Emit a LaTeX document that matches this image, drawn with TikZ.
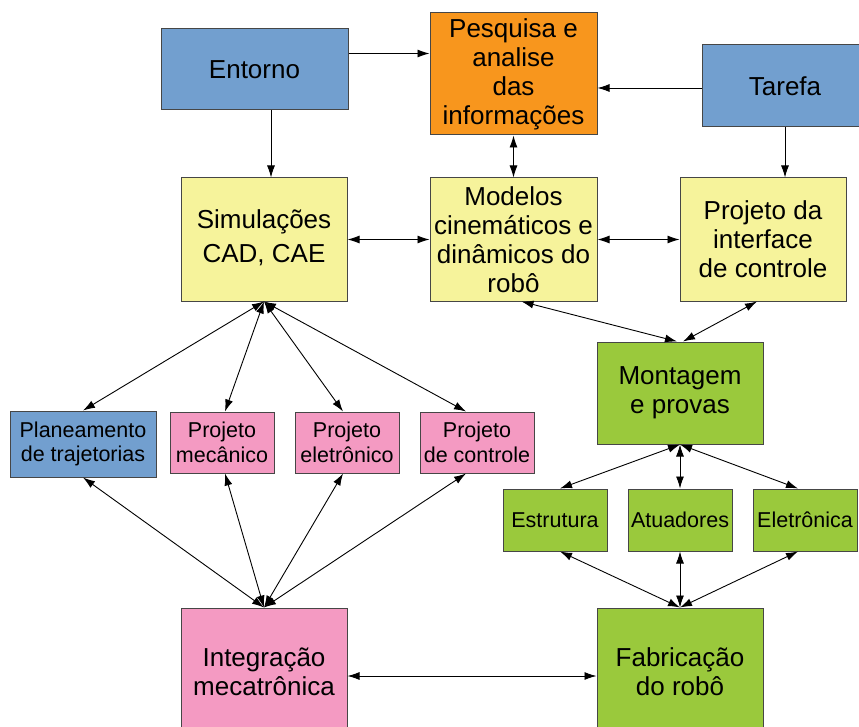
\documentclass[tikz,border=0pt]{standalone}
\usepackage{fontspec}
\setmainfont{Liberation Sans}
\usetikzlibrary{arrows.meta}
\definecolor{cblue}{RGB}{114,159,207}
\definecolor{corange}{RGB}{248,150,29}
\definecolor{cyellow}{RGB}{246,243,155}
\definecolor{cpink}{RGB}{244,154,194}
\definecolor{cgreen}{RGB}{154,201,60}
\definecolor{cborder}{RGB}{70,70,70}
\tikzset{
  box/.style={draw=cborder, line width=1pt, inner sep=0pt, align=center,
    font=\fontsize{26}{29}\selectfont},
  sbox/.style={draw=cborder, line width=1pt, inner sep=0pt, align=center,
    font=\fontsize{21.5}{24.5}\selectfont},
  arr/.style={line width=0.9pt, -{Latex[length=12pt,width=8pt]}},
  darr/.style={line width=0.9pt, {Latex[length=12pt,width=8pt]}-{Latex[length=12pt,width=8pt]}},
}
\begin{document}
\begin{tikzpicture}[x=1pt,y=-1pt]
\useasboundingbox (0,0) rectangle (859,727);
% top row
\node[box, fill=cblue, minimum width=187pt, minimum height=81pt] (entorno) at (254.5,69.5) {Entorno};
\node[box, fill=corange, minimum width=167pt, minimum height=122pt] (pesquisa) at (513.5,74) {Pesquisa e\\analise\\das\\informações};
\node[box, fill=cblue, minimum width=166pt, minimum height=82pt] (tarefa) at (785,86) {Tarefa};
% second row
\node[box, fill=cyellow, minimum width=166pt, minimum height=123pt] (sim) at (264,239.5) {\raisebox{8pt}{\begin{tabular}{@{}c@{}}Simulações\\[5pt]CAD, CAE\end{tabular}}};
\node[box, fill=cyellow, minimum width=167pt, minimum height=123pt] (modelos) at (513.5,239.5) {Modelos\\cinemáticos e\\dinâmicos do\\robô};
\node[box, fill=cyellow, minimum width=166pt, minimum height=123pt] (interface) at (763,239.5) {Projeto da\\interface\\de controle};
% montagem
\node[box, fill=cgreen, minimum width=166pt, minimum height=102pt] (montagem) at (680,393) {Montagem\\e provas};
% small row left
\node[sbox, fill=cblue, minimum width=146pt, minimum height=66pt] (plan) at (83,444) {Planeamento\\de trajetorias};
\node[sbox, fill=cpink, minimum width=104pt, minimum height=61pt] (mec) at (222,442.5) {Projeto\\mecânico};
\node[sbox, fill=cpink, minimum width=104pt, minimum height=61pt] (ele) at (347,442.5) {Projeto\\eletrônico};
\node[sbox, fill=cpink, minimum width=114pt, minimum height=61pt] (ctrl) at (477,442.5) {Projeto\\de controle};
% small row right
\node[sbox, fill=cgreen, minimum width=104pt, minimum height=62pt] (estr) at (555,520) {Estrutura};
\node[sbox, fill=cgreen, minimum width=104pt, minimum height=62pt] (atua) at (680,520) {Atuadores};
\node[sbox, fill=cgreen, minimum width=104pt, minimum height=62pt] (eletr) at (805,520) {Eletrônica};
% bottom row
\node[box, fill=cpink, minimum width=166pt, minimum height=128pt] (integ) at (264,672) {Integração\\mecatrônica};
\node[box, fill=cgreen, minimum width=166pt, minimum height=128pt] (fabr) at (680,672) {Fabricação\\do robô};
% connectors top
\draw[arr] ([yshift=16pt]entorno.east) -- ([yshift=16pt]entorno.east -| pesquisa.west);
\draw[arr] ([xshift=16.5pt]entorno.south) -- ([xshift=16.5pt]entorno.south |- sim.north);
\draw[arr] (tarefa.west |- pesquisa.east) ++(0,14) coordinate (tw) -- (tw -| pesquisa.east);
\draw[arr] (tarefa.south) -- (tarefa.south |- interface.north);
\draw[darr] (pesquisa.south) -- (modelos.north);
\draw[darr] (sim.east) -- (modelos.west);
\draw[darr] (modelos.east) -- (interface.west);
% from simulacoes
\draw[darr] (sim.south) -- (plan.north);
\draw[darr] (sim.south) -- ([xshift=3pt]mec.north);
\draw[darr] (sim.south) -- ([xshift=-4pt]ele.north);
\draw[darr] (sim.south) -- ([xshift=-11pt]ctrl.north);
% to integracao
\draw[darr] (plan.south) -- (integ.north);
\draw[darr] ([xshift=3pt]mec.south) -- (integ.north);
\draw[darr] ([xshift=-4pt]ele.south) -- (integ.north);
\draw[darr] ([xshift=-11pt]ctrl.south) -- (integ.north);
% montagem
\draw[darr] ([xshift=8pt]modelos.south) -- ([xshift=-3pt]montagem.north);
\draw[darr] ([xshift=-6pt]interface.south) -- ([xshift=3pt]montagem.north);
\draw[darr] (montagem.south) -- ([xshift=5pt]estr.north);
\draw[darr] (montagem.south) -- (atua.north);
\draw[darr] (montagem.south) -- ([xshift=-7pt]eletr.north);
\draw[darr] ([xshift=5pt]estr.south) -- (fabr.north);
\draw[darr] (atua.south) -- (fabr.north);
\draw[darr] ([xshift=-7pt]eletr.south) -- (fabr.north);
% bottom
\draw[darr] ([yshift=-4pt]integ.east) -- ([yshift=-4pt]integ.east -| fabr.west);
\end{tikzpicture}
\end{document}
